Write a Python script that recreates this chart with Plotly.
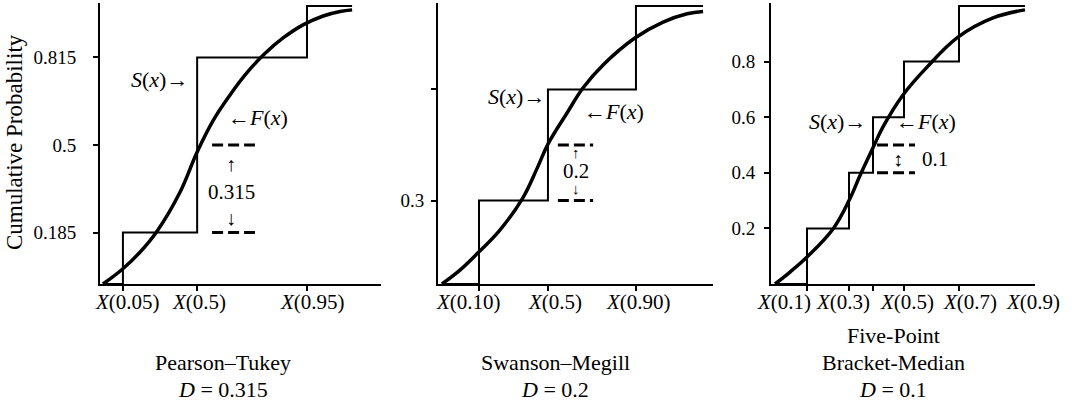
import plotly.graph_objects as go

W, H = 1072, 405
FONT = "Liberation Serif, Times New Roman, serif"

# ---------------- data ----------------
# Panel 1: Pearson–Tukey
pt_step_x = [0, 8.0, 37.8, 81.9, 100]
pt_step_y = [0, 0.185, 0.815, 1.0, 1.0]
pt_curve_x = [0, 8.0, 14.9, 21.7, 30.9, 37.8, 44.2, 51.0, 57.8, 65.1, 72.3, 80.3, 88.4, 95.2, 100]
pt_curve_y = [0, 0.055, 0.115, 0.19, 0.33, 0.475, 0.588, 0.68, 0.76, 0.83, 0.885, 0.932, 0.964, 0.98, 0.986]
pt_yticks = [0.185, 0.5, 0.815]
pt_yticktext = ["0.185", "0.5", "0.815"]
pt_xlabels = ["X(0.05)", "X(0.5)", "X(0.95)"]
pt_xlabel_pos = [10.0, 38.6, 83.9]
pt_gap = [0.185, 0.5]
pt_D = "0.315"

# Panel 2: Swanson–Megill
sm_step_x = [0, 14.2, 40.6, 74.3, 100]
sm_step_y = [0, 0.3, 0.7, 1.0, 1.0]
sm_curve_x = [0, 6.9, 13.8, 22.2, 31.0, 36.4, 40.6, 47.9, 54.0, 61.7, 73.9, 84.7, 93.9, 100]
sm_curve_y = [0, 0.05, 0.112, 0.194, 0.31, 0.415, 0.503, 0.615, 0.705, 0.788, 0.885, 0.942, 0.972, 0.98]
sm_yticks = [0.3, 0.7]
sm_yticktext = ["0.3", ""]
sm_xlabels = ["X(0.10)", "X(0.5)", "X(0.90)"]
sm_xlabel_pos = [10.3, 43.3, 75.1]
sm_gap = [0.3, 0.5]
sm_D = "0.2"

# Panel 3: Five-Point Bracket-Median
bm_step_x = [0, 12.8, 29.6, 39.2, 51.6, 73.6, 100]
bm_step_y = [0, 0.2, 0.4, 0.6, 0.8, 1.0, 1.0]
bm_curve_x = [0, 6.0, 12.8, 23.2, 29.6, 34.0, 39.2, 43.2, 51.2, 60.8, 73.2, 87.2, 100]
bm_curve_y = [0, 0.043, 0.097, 0.198, 0.30, 0.39, 0.49, 0.565, 0.68, 0.78, 0.888, 0.957, 0.986]
bm_yticks = [0.2, 0.4, 0.6, 0.8]
bm_yticktext = ["0.2", "0.4", "0.6", "0.8"]
bm_xlabels = ["X(0.1)", "X(0.3)", "X(0.5)", "X(0.7)", "X(0.9)"]
bm_xlabel_pos = [3.6, 27.2, 52.8, 78.0, 103.2]
bm_gap = [0.4, 0.5]
bm_D = "0.1"

titles = [["Pearson–Tukey"], ["Swanson–Megill"], ["Five-Point", "Bracket-Median"]]
D_values = [pt_D, sm_D, bm_D]

# ---------------- layout geometry ----------------
def px(x):
    return x / W

def py(y):
    return 1 - y / H

y_dom = [py(284), py(3.2)]
panels = [
    dict(dom=[px(100), px(381)], rng=[-1.2, 111.6], standoff=13),
    dict(dom=[px(438), px(713)], rng=[-1.5, 103.8], standoff=3),
    dict(dom=[px(771), px(1035)], rng=[-1.6, 104.0], standoff=5),
]

fig = go.Figure()

def italic_x(lbl):
    return "<i>X</i>" + lbl[1:]

datasets = [
    (pt_step_x, pt_step_y, pt_curve_x, pt_curve_y, pt_yticks, pt_yticktext, pt_xlabels, pt_xlabel_pos),
    (sm_step_x, sm_step_y, sm_curve_x, sm_curve_y, sm_yticks, sm_yticktext, sm_xlabels, sm_xlabel_pos),
    (bm_step_x, bm_step_y, bm_curve_x, bm_curve_y, bm_yticks, bm_yticktext, bm_xlabels, bm_xlabel_pos),
]

annotations = []
for i, (sx, sy, cx, cy, yt, ytt, xl, xlp) in enumerate(datasets):
    n = "" if i == 0 else str(i + 1)
    xa, ya = "x" + n, "y" + n
    fig.add_trace(go.Scatter(x=sx, y=sy, mode="lines", line=dict(color="black", width=2, shape="hv"),
                             xaxis=xa, yaxis=ya, showlegend=False, hoverinfo="skip"))
    fig.add_trace(go.Scatter(x=cx, y=cy, mode="lines", line=dict(color="black", width=3.5, shape="spline", smoothing=1.1),
                             xaxis=xa, yaxis=ya, showlegend=False, hoverinfo="skip"))
    common = dict(showgrid=False, zeroline=False, showline=True, linecolor="black", linewidth=2,
                  ticks="outside", tickcolor="black", tickwidth=2, ticklen=5,
                  tickfont=dict(family=FONT, size=19, color="black"))
    qx = sx[1:-1]
    fig.update_layout(**{
        "xaxis" + n: dict(domain=panels[i]["dom"], range=panels[i]["rng"], anchor=ya,
                          tickvals=qx, ticktext=[""] * len(qx), fixedrange=True, **common),
        "yaxis" + n: dict(domain=y_dom, range=[0, 1.01], anchor=xa, fixedrange=True,
                          tickvals=yt, ticktext=ytt, ticklabelstandoff=panels[i]["standoff"], **common),
    })
    for lbl, pos in zip(xl, xlp):
        annotations.append(dict(x=pos, y=py(302), xref=xa, yref="paper", text=italic_x(lbl),
                                showarrow=False, xanchor="center", yanchor="middle",
                                font=dict(family=FONT, size=21, color="black")))

# dashed gap lines
gaps = [(pt_gap, [43.8, 61.0]), (sm_gap, [44.4, 57.9]), (bm_gap, [40.8, 56.0])]
for i, (levels, xr) in enumerate(gaps):
    n = "" if i == 0 else str(i + 1)
    for lv in levels:
        fig.add_trace(go.Scatter(x=xr, y=[lv, lv], mode="lines",
                                 line=dict(color="black", width=3, dash="11px,5px"),
                                 xaxis="x" + n, yaxis="y" + n, showlegend=False, hoverinfo="skip"))

def ann(x, y, text, xref, yref, size=22, xanchor="center"):
    annotations.append(dict(x=x, y=y, xref=xref, yref=yref, text=text, showarrow=False,
                            xanchor=xanchor, yanchor="middle",
                            font=dict(family=FONT, size=size, color="black")))

S_TXT = "<i>S</i>(<i>x</i>)→"
F_TXT = "←<i>F</i>(<i>x</i>)"
# panel 1
ann(34.9, 0.734, S_TXT, "x", "y", xanchor="right")
ann(49.4, 0.60, F_TXT, "x", "y", xanchor="left")
ann(51.4, 0.43, "↑", "x", "y", size=20)
ann(51.4, 0.331, pt_D, "x", "y", size=21)
ann(51.4, 0.237, "↓", "x", "y", size=20)
# panel 2
ann(40.2, 0.673, S_TXT, "x2", "y2", xanchor="right")
ann(53.6, 0.619, F_TXT, "x2", "y2", xanchor="left")
ann(51.3, 0.47, "↑", "x2", "y2", size=15)
ann(51.3, 0.406, sm_D, "x2", "y2", size=21)
ann(51.3, 0.343, "↓", "x2", "y2", size=15)
# panel 3
ann(37.2, 0.583, S_TXT, "x3", "y3", xanchor="right")
ann(47.6, 0.583, F_TXT, "x3", "y3", xanchor="left")
ann(49.2, 0.45, "↕", "x3", "y3", size=20)
ann(64.0, 0.45, bm_D, "x3", "y3", size=21)

# y-axis title
annotations.append(dict(x=px(14), y=py(142), xref="paper", yref="paper", text="Cumulative Probability",
                        textangle=-90, showarrow=False, xanchor="center", yanchor="middle",
                        font=dict(family=FONT, size=23, color="black")))

# panel titles
centers = [223, 555, 893]
for c, tl, d in zip(centers, titles, D_values):
    lines = tl + ["<i>D</i> = " + d]
    ys = [389 - 27 * (len(lines) - 1 - k) for k in range(len(lines))]
    for t, yy in zip(lines, ys):
        ann(px(c), py(yy), t, "paper", "paper", size=22)

fig.update_layout(width=W, height=H, margin=dict(l=0, r=0, t=0, b=0),
                  plot_bgcolor="white", paper_bgcolor="white", annotations=annotations,
                  font=dict(family=FONT, color="black"), hovermode=False, dragmode=False)

fig.write_html("out.html", config={"displayModeBar": False, "staticPlot": True},
               post_script="document.body.style.margin='0';")
